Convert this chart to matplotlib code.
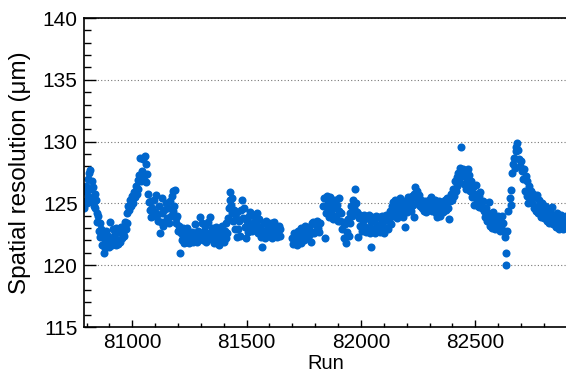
import matplotlib.pyplot as plt
from matplotlib.ticker import MultipleLocator

plt.rcParams['font.family'] = ['Liberation Sans', 'DejaVu Sans']

# run number / resolution pairs, split into three periods
runs_a = [80790, 80793, 80796, 80799, 80802, 80805, 80808, 80811, 80814, 80817,
          80820, 80823, 80826, 80829, 80832, 80835, 80838, 80841, 80845, 80848,
          80851, 80854, 80857, 80860, 80864, 80868, 80872, 80875, 80879, 80883,
          80887, 80891, 80895, 80899, 80903, 80907, 80911, 80915, 80919, 80923,
          80927, 80931, 80935, 80939, 80943, 80947, 80951, 80955, 80959, 80963,
          80967, 80971, 80975, 80979, 80983, 80987, 80991, 80995, 80999, 81003,
          81007, 81011, 81015, 81019, 81023, 81027, 81031, 81035, 81039, 81043,
          81047, 81051, 81055, 81059, 81062, 81065, 81068, 81072, 81076, 81080,
          81084, 81088, 81092, 81096, 81100, 81104, 81108, 81112, 81116, 81120,
          81124, 81128, 81132, 81136, 81140, 81144, 81148, 81152, 81156, 81160,
          81164, 81168, 81172, 81176, 81180, 81184, 81187, 81190, 81193, 81197,
          81200, 81204, 81208, 81212, 81216, 81220, 81224, 81228, 81232, 81236,
          81240, 81244, 81248, 81252, 81256, 81260, 81264, 81268, 81272, 81276,
          81280, 81284, 81288, 81292, 81296, 81300, 81304, 81308, 81312, 81316,
          81320, 81324, 81328, 81332, 81336, 81340, 81344, 81348, 81352, 81356,
          81360, 81364, 81368, 81372, 81376, 81380, 81384, 81388, 81392, 81396,
          81400, 81404, 81408, 81412, 81416, 81420, 81423, 81426, 81429, 81432,
          81435, 81438, 81441, 81444, 81448, 81452, 81456, 81460, 81464, 81468,
          81472, 81476, 81480, 81484, 81488, 81492, 81496, 81500, 81504, 81508,
          81512, 81516, 81520, 81524, 81528, 81532, 81536, 81540, 81544, 81548,
          81552, 81556, 81560, 81564, 81568, 81572, 81576, 81580, 81584, 81588,
          81592, 81596, 81600, 81604, 81608, 81612, 81616, 81620, 81624, 81628,
          81632, 81636, 81640, 81644, 81648]
res_a = [124.6, 126.0, 125.2, 126.4, 125.0, 127.0, 125.6, 127.5, 126.2, 127.7,
         125.4, 126.8, 125.1, 126.3, 124.8, 125.8, 124.6, 125.3, 124.2, 123.5,
         124.0, 122.8, 123.4, 122.3, 122.9, 121.6, 122.5, 121.0, 122.0, 121.4,
         122.8, 121.7, 122.4, 121.5, 123.5, 122.1, 121.6, 122.9, 121.8, 122.5,
         121.6, 123.0, 122.0, 121.7, 122.7, 121.9, 123.1, 122.2, 122.6, 122.4,
         123.5, 122.9, 124.2, 123.4, 124.8, 124.5, 125.3, 124.8, 125.6, 125.0,
         125.9, 125.5, 126.4, 125.8, 126.9, 126.2, 127.3, 128.7, 126.8, 127.6,
         128.6, 127.2, 128.8, 128.2, 126.7, 127.4, 125.8, 125.1, 124.5, 125.2,
         123.9, 124.6, 124.0, 125.3, 124.3, 125.7, 124.1, 123.6, 124.8, 122.6,
         123.5, 125.4, 124.2, 123.2, 124.5, 123.5, 125.0, 123.8, 124.6, 123.4,
         125.2, 124.0, 125.6, 124.4, 126.0, 124.8, 126.1, 123.8, 123.4, 124.0,
         122.8, 123.2, 121.0, 122.6, 122.0, 123.0, 122.2, 121.8, 122.6, 121.9,
         123.0, 122.3, 121.8, 122.5, 122.0, 122.7, 121.9, 122.4, 122.1, 123.3,
         122.5, 121.9, 122.8, 122.2, 123.9, 122.6, 123.4, 122.0, 122.8, 122.3,
         123.2, 121.9, 122.6, 123.5, 122.1, 123.9, 122.7, 123.0, 122.2, 121.8,
         122.9, 122.3, 123.1, 121.8, 122.5, 121.6, 122.8, 122.0, 123.2, 122.4,
         121.9, 122.8, 122.2, 123.4, 122.6, 123.8, 124.6, 125.3, 125.9, 124.9,
         125.4, 124.2, 123.6, 124.5, 122.9, 123.8, 122.3, 124.3, 122.9, 123.6,
         122.4, 124.5, 125.3, 123.8, 124.6, 123.1, 122.2, 123.6, 122.7, 123.9,
         122.9, 124.3, 123.3, 122.8, 124.1, 123.5, 122.9, 123.8, 124.2, 123.2,
         122.6, 123.7, 123.0, 122.3, 121.5, 122.6, 123.4, 122.2, 123.6, 122.9,
         123.3, 122.4, 123.0, 122.6, 123.4, 122.2, 122.8, 123.5, 122.5, 123.0,
         122.3, 122.8, 123.2, 122.4, 122.9]

runs_b = [81700, 81704, 81708, 81712, 81716, 81720, 81724, 81728, 81732, 81736,
          81740, 81744, 81748, 81752, 81756, 81760, 81764, 81768, 81772, 81776,
          81780, 81784, 81788, 81792, 81796, 81800, 81804, 81808, 81812, 81816,
          81820, 81843, 81836, 81840, 81846, 81850, 81854, 81858, 81862, 81866,
          81870, 81874, 81878, 81882, 81886, 81890, 81894, 81898, 81902, 81906,
          81910, 81914, 81918, 81922, 81926, 81930, 81934, 81938, 81942, 81946,
          81950, 81954, 81958, 81962, 81966, 81970, 81974, 81978, 81982, 81986,
          81990, 81994, 81998, 82002, 82006, 82010, 82014, 82018, 82022, 82026,
          82030, 82034, 82038, 82042, 82046, 82050, 82054, 82058, 82062, 82066,
          82070, 82074, 82078, 82082, 82086, 82090, 82094, 82098, 82102, 82106,
          82110, 82114, 82118, 82122, 82126, 82130, 82134, 82138, 82142, 82146,
          82150, 82154, 82158, 82162, 82166, 82170, 82174, 82178, 82182, 82186,
          82190, 82194, 82198, 82202, 82206, 82210, 82214, 82218, 82222, 82226,
          82230, 82234, 82238, 82242, 82246, 82250, 82254, 82258, 82262, 82266,
          82270, 82274, 82278, 82282, 82286, 82290, 82294]
res_b = [122.2, 121.7, 122.6, 121.9, 122.4, 121.6, 122.8, 122.1, 122.5, 121.8,
         123.0, 122.3, 122.7, 122.0, 123.2, 122.4, 122.9, 122.2, 123.1, 122.5,
         121.9, 123.4, 122.7, 123.5, 122.6, 123.3, 122.8, 123.6, 123.0, 122.7,
         123.4, 122.2, 124.8, 125.4, 124.2, 125.6, 124.6, 125.2, 123.9, 125.5,
         124.3, 125.0, 123.7, 124.6, 125.3, 124.0, 124.9, 123.6, 125.4, 124.4,
         123.6, 124.2, 122.9, 123.5, 122.2, 123.3, 121.8, 122.7, 123.7, 122.4,
         124.2, 123.4, 124.8, 124.0, 125.3, 124.6, 126.2, 125.0, 124.3, 122.3,
         123.8, 124.1, 123.2, 124.0, 122.8, 123.6, 124.1, 123.1, 122.7, 123.8,
         123.0, 124.1, 122.6, 123.5, 121.5, 123.9, 122.9, 123.6, 122.6, 124.0,
         123.2, 122.8, 123.9, 122.7, 123.4, 124.0, 122.9, 123.5, 122.6, 123.8,
         124.1, 123.0, 122.9, 123.6, 124.4, 123.3, 124.8, 124.0, 125.1, 124.3,
         125.3, 124.6, 123.8, 125.0, 124.4, 125.4, 124.2, 124.9, 123.9, 125.2,
         124.5, 123.1, 125.0, 124.3, 125.5, 124.7, 125.2, 124.4, 125.6, 124.9,
         123.9, 125.8, 126.3, 125.4, 126.0, 125.1, 125.7, 124.8, 125.3, 124.6,
         125.0, 124.4, 125.2, 124.7, 124.3, 125.0, 124.5]

runs_c = [82298, 82302, 82306, 82310, 82314, 82318, 82322, 82326, 82330, 82334,
          82338, 82342, 82346, 82350, 82354, 82358, 82362, 82366, 82370, 82374,
          82378, 82382, 82386, 82390, 82394, 82398, 82402, 82406, 82410, 82414,
          82418, 82422, 82426, 82430, 82434, 82438, 82442, 82446, 82450, 82454,
          82458, 82462, 82466, 82470, 82474, 82478, 82482, 82486, 82490, 82494,
          82498, 82502, 82506, 82510, 82514, 82518, 82522, 82526, 82530, 82534,
          82538, 82542, 82546, 82550, 82554, 82558, 82562, 82566, 82570, 82574,
          82578, 82582, 82586, 82590, 82594, 82598, 82602, 82606, 82610, 82614,
          82618, 82622, 82626, 82630, 82634, 82636, 82640, 82644, 82650, 82655,
          82658, 82660, 82664, 82667, 82672, 82676, 82680, 82684, 82688, 82692,
          82696, 82700, 82704, 82708, 82712, 82716, 82720, 82724, 82728, 82732,
          82736, 82740, 82744, 82748, 82752, 82756, 82760, 82764, 82768, 82772,
          82776, 82780, 82784, 82788, 82792, 82796, 82800, 82804, 82808, 82812,
          82816, 82820, 82824, 82828, 82832, 82836, 82840, 82844, 82848, 82852,
          82856, 82860, 82864, 82868, 82872, 82876, 82880, 82884, 82888, 82892,
          82896, 82900]
res_c = [125.3, 124.6, 125.5, 124.4, 125.0, 124.5, 125.3, 124.2, 124.8, 123.9,
         124.6, 125.2, 124.0, 124.7, 125.1, 124.3, 124.9, 125.3, 124.5, 125.0,
         125.4, 124.6, 123.7, 125.2, 125.8, 125.3, 126.2, 125.6, 126.8, 126.0,
         127.1, 126.4, 127.5, 126.8, 127.9, 129.6, 127.2, 127.8, 126.6, 127.4,
         126.2, 127.0, 127.8, 126.5, 127.3, 126.0, 126.8, 125.5, 126.3, 124.9,
         125.8, 126.5, 125.2, 124.8, 125.6, 124.7, 125.9, 125.0, 124.6, 125.2,
         124.4, 123.9, 124.6, 123.6, 124.2, 125.1, 124.0, 123.2, 123.8, 123.0,
         124.3, 123.5, 122.9, 123.7, 123.1, 124.0, 123.3, 122.8, 123.6, 123.0,
         124.0, 123.4, 122.8, 122.3, 121.0, 120.0, 122.8, 124.4, 125.4, 126.1,
         124.9, 127.5, 128.2, 128.7, 127.9, 129.2, 129.6, 129.9, 129.3, 128.6,
         128.0, 128.4, 127.6, 127.0, 127.8, 126.0, 127.2, 125.6, 126.8, 125.0,
         126.4, 125.4, 126.0, 125.0, 125.8, 124.6, 125.5, 124.4, 125.7, 124.8,
         124.2, 125.3, 124.5, 123.9, 125.0, 124.3, 123.8, 124.8, 124.1, 123.6,
         124.6, 123.9, 123.4, 124.3, 123.7, 124.7, 123.3, 124.0, 123.5, 123.1,
         124.2, 123.6, 122.9, 123.8, 123.2, 124.1, 123.4, 122.9, 123.7, 123.1,
         124.0, 123.3]

runs = runs_a + runs_b + runs_c
res = res_a + res_b + res_c

fig = plt.figure(figsize=(5.66, 3.75), dpi=100)
ax = fig.add_axes([0.1484, 0.128, 0.853, 0.824])

ax.plot(runs, res, 'o', color='#0066cc', markersize=5.8, markeredgewidth=0)

ax.set_xlim(80789, 82900)
ax.set_ylim(115, 140)
ax.xaxis.set_major_locator(MultipleLocator(500))
ax.xaxis.set_minor_locator(MultipleLocator(100))
ax.yaxis.set_major_locator(MultipleLocator(5))
ax.yaxis.set_minor_locator(MultipleLocator(1))

ax.tick_params(axis='both', which='both', direction='in', labelsize=15, width=1)
ax.tick_params(axis='x', which='major', length=5.4, pad=4)
ax.tick_params(axis='x', which='minor', length=2.9)
ax.tick_params(axis='y', which='major', length=8.6, pad=4.5)
ax.tick_params(axis='y', which='minor', length=5)

ax.yaxis.grid(True, which='major', linestyle=(0, (1, 2)), color='#777777', linewidth=0.8)
ax.set_axisbelow(True)
for side in ['left', 'bottom', 'top']:
    ax.spines[side].set_linewidth(1.2)
ax.spines['right'].set_visible(False)

ax.set_xlabel('Run', fontsize=14.5)
ax.set_ylabel('Spatial resolution (\u03bcm)', fontsize=17.5)
ax.xaxis.set_label_coords(0.5, -0.088)
ax.yaxis.set_label_coords(-0.11, 0.5)

plt.savefig('out.png', dpi=100)
